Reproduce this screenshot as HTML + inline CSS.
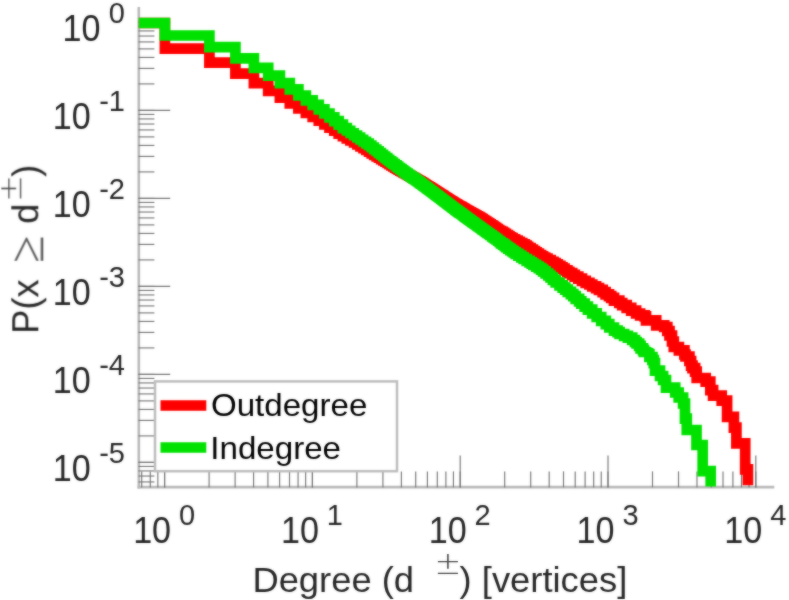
<!DOCTYPE html>
<html><head><meta charset="utf-8"><title>Degree distribution</title>
<style>
html,body{margin:0;padding:0;background:#fff;}
body{width:789px;height:600px;overflow:hidden;font-family:"Liberation Sans",sans-serif;}
svg{display:block;}
text{font-family:"Liberation Sans",sans-serif;fill:#262626;}
.thin{font-family:"DejaVu Sans Light","DejaVu Sans",sans-serif;font-weight:200;fill:#444;}
.geq{font-family:"Liberation Serif",serif;fill:#5a5a5a;}
</style></head><body>
<svg width="789" height="600" viewBox="0 0 789 600">
<rect width="789" height="600" fill="#fff"/>
<defs><filter id="soft" x="0" y="0" width="789" height="600" filterUnits="userSpaceOnUse" color-interpolation-filters="sRGB"><feGaussianBlur stdDeviation="0.8" result="b"/><feComposite in="SourceGraphic" in2="b" operator="arithmetic" k1="0" k2="0.5" k3="0.5" k4="0"/></filter></defs>
<g filter="url(#soft)">
<g stroke="#b9b9b9" stroke-width="2.6" fill="none">
<line x1="138.8" y1="7.0" x2="138.8" y2="488.4"/>
<line x1="137.5" y1="487.1" x2="774.3" y2="487.1"/>
</g>
<g stroke="#767676" stroke-width="1.15" fill="none">
<line x1="138.4" y1="22.40" x2="170.2" y2="22.40"/>
<line x1="138.4" y1="110.40" x2="154.4" y2="110.40"/>
<line x1="138.4" y1="83.91" x2="154.4" y2="83.91"/>
<line x1="138.4" y1="68.41" x2="154.4" y2="68.41"/>
<line x1="138.4" y1="57.42" x2="154.4" y2="57.42"/>
<line x1="138.4" y1="48.89" x2="154.4" y2="48.89"/>
<line x1="138.4" y1="41.92" x2="154.4" y2="41.92"/>
<line x1="138.4" y1="36.03" x2="154.4" y2="36.03"/>
<line x1="138.4" y1="30.93" x2="154.4" y2="30.93"/>
<line x1="138.4" y1="26.43" x2="154.4" y2="26.43"/>
<line x1="138.4" y1="110.40" x2="170.2" y2="110.40"/>
<line x1="138.4" y1="198.40" x2="154.4" y2="198.40"/>
<line x1="138.4" y1="171.91" x2="154.4" y2="171.91"/>
<line x1="138.4" y1="156.41" x2="154.4" y2="156.41"/>
<line x1="138.4" y1="145.42" x2="154.4" y2="145.42"/>
<line x1="138.4" y1="136.89" x2="154.4" y2="136.89"/>
<line x1="138.4" y1="129.92" x2="154.4" y2="129.92"/>
<line x1="138.4" y1="124.03" x2="154.4" y2="124.03"/>
<line x1="138.4" y1="118.93" x2="154.4" y2="118.93"/>
<line x1="138.4" y1="114.43" x2="154.4" y2="114.43"/>
<line x1="138.4" y1="198.40" x2="170.2" y2="198.40"/>
<line x1="138.4" y1="286.40" x2="154.4" y2="286.40"/>
<line x1="138.4" y1="259.91" x2="154.4" y2="259.91"/>
<line x1="138.4" y1="244.41" x2="154.4" y2="244.41"/>
<line x1="138.4" y1="233.42" x2="154.4" y2="233.42"/>
<line x1="138.4" y1="224.89" x2="154.4" y2="224.89"/>
<line x1="138.4" y1="217.92" x2="154.4" y2="217.92"/>
<line x1="138.4" y1="212.03" x2="154.4" y2="212.03"/>
<line x1="138.4" y1="206.93" x2="154.4" y2="206.93"/>
<line x1="138.4" y1="202.43" x2="154.4" y2="202.43"/>
<line x1="138.4" y1="286.40" x2="170.2" y2="286.40"/>
<line x1="138.4" y1="374.40" x2="154.4" y2="374.40"/>
<line x1="138.4" y1="347.91" x2="154.4" y2="347.91"/>
<line x1="138.4" y1="332.41" x2="154.4" y2="332.41"/>
<line x1="138.4" y1="321.42" x2="154.4" y2="321.42"/>
<line x1="138.4" y1="312.89" x2="154.4" y2="312.89"/>
<line x1="138.4" y1="305.92" x2="154.4" y2="305.92"/>
<line x1="138.4" y1="300.03" x2="154.4" y2="300.03"/>
<line x1="138.4" y1="294.93" x2="154.4" y2="294.93"/>
<line x1="138.4" y1="290.43" x2="154.4" y2="290.43"/>
<line x1="138.4" y1="374.40" x2="170.2" y2="374.40"/>
<line x1="138.4" y1="462.40" x2="154.4" y2="462.40"/>
<line x1="138.4" y1="435.91" x2="154.4" y2="435.91"/>
<line x1="138.4" y1="420.41" x2="154.4" y2="420.41"/>
<line x1="138.4" y1="409.42" x2="154.4" y2="409.42"/>
<line x1="138.4" y1="400.89" x2="154.4" y2="400.89"/>
<line x1="138.4" y1="393.92" x2="154.4" y2="393.92"/>
<line x1="138.4" y1="388.03" x2="154.4" y2="388.03"/>
<line x1="138.4" y1="382.93" x2="154.4" y2="382.93"/>
<line x1="138.4" y1="378.43" x2="154.4" y2="378.43"/>
<line x1="138.4" y1="462.40" x2="170.2" y2="462.40"/>
<line x1="138.4" y1="481.92" x2="154.4" y2="481.92"/>
<line x1="138.4" y1="476.03" x2="154.4" y2="476.03"/>
<line x1="138.4" y1="470.93" x2="154.4" y2="470.93"/>
<line x1="138.4" y1="466.43" x2="154.4" y2="466.43"/>
<line x1="141.71" y1="487.4" x2="141.71" y2="471.4"/>
<line x1="150.28" y1="487.4" x2="150.28" y2="471.4"/>
<line x1="157.84" y1="487.4" x2="157.84" y2="471.4"/>
<line x1="164.60" y1="487.4" x2="164.60" y2="455.6"/>
<line x1="164.60" y1="487.4" x2="164.60" y2="471.4"/>
<line x1="209.09" y1="487.4" x2="209.09" y2="471.4"/>
<line x1="235.12" y1="487.4" x2="235.12" y2="471.4"/>
<line x1="253.58" y1="487.4" x2="253.58" y2="471.4"/>
<line x1="267.91" y1="487.4" x2="267.91" y2="471.4"/>
<line x1="279.61" y1="487.4" x2="279.61" y2="471.4"/>
<line x1="289.51" y1="487.4" x2="289.51" y2="471.4"/>
<line x1="298.08" y1="487.4" x2="298.08" y2="471.4"/>
<line x1="305.64" y1="487.4" x2="305.64" y2="471.4"/>
<line x1="312.40" y1="487.4" x2="312.40" y2="455.6"/>
<line x1="312.40" y1="487.4" x2="312.40" y2="471.4"/>
<line x1="356.89" y1="487.4" x2="356.89" y2="471.4"/>
<line x1="382.92" y1="487.4" x2="382.92" y2="471.4"/>
<line x1="401.38" y1="487.4" x2="401.38" y2="471.4"/>
<line x1="415.71" y1="487.4" x2="415.71" y2="471.4"/>
<line x1="427.41" y1="487.4" x2="427.41" y2="471.4"/>
<line x1="437.31" y1="487.4" x2="437.31" y2="471.4"/>
<line x1="445.88" y1="487.4" x2="445.88" y2="471.4"/>
<line x1="453.44" y1="487.4" x2="453.44" y2="471.4"/>
<line x1="460.20" y1="487.4" x2="460.20" y2="455.6"/>
<line x1="460.20" y1="487.4" x2="460.20" y2="471.4"/>
<line x1="504.69" y1="487.4" x2="504.69" y2="471.4"/>
<line x1="530.72" y1="487.4" x2="530.72" y2="471.4"/>
<line x1="549.18" y1="487.4" x2="549.18" y2="471.4"/>
<line x1="563.51" y1="487.4" x2="563.51" y2="471.4"/>
<line x1="575.21" y1="487.4" x2="575.21" y2="471.4"/>
<line x1="585.11" y1="487.4" x2="585.11" y2="471.4"/>
<line x1="593.68" y1="487.4" x2="593.68" y2="471.4"/>
<line x1="601.24" y1="487.4" x2="601.24" y2="471.4"/>
<line x1="608.00" y1="487.4" x2="608.00" y2="455.6"/>
<line x1="608.00" y1="487.4" x2="608.00" y2="471.4"/>
<line x1="652.49" y1="487.4" x2="652.49" y2="471.4"/>
<line x1="678.52" y1="487.4" x2="678.52" y2="471.4"/>
<line x1="696.98" y1="487.4" x2="696.98" y2="471.4"/>
<line x1="711.31" y1="487.4" x2="711.31" y2="471.4"/>
<line x1="723.01" y1="487.4" x2="723.01" y2="471.4"/>
<line x1="732.91" y1="487.4" x2="732.91" y2="471.4"/>
<line x1="741.48" y1="487.4" x2="741.48" y2="471.4"/>
<line x1="749.04" y1="487.4" x2="749.04" y2="471.4"/>
<line x1="755.80" y1="487.4" x2="755.80" y2="455.6"/>
<line x1="755.80" y1="487.4" x2="755.80" y2="471.4"/>
</g>
<path d="M138.8 23.0 L164.9 23.0 L164.9 48.7 L209.4 48.7 L209.4 62.7 L235.4 62.7 L235.4 73.7 L253.9 73.7 L253.9 83.2 L268.2 83.2 L268.2 90.8 L279.9 90.8 L279.9 97.7 L289.8 97.7 L289.8 103.4 L298.4 103.4 L298.4 108.3 L305.9 108.3 L305.9 112.9 L312.7 112.9 L312.7 116.9 L318.8 116.9 L318.8 120.7 L324.4 120.7 L324.4 124.5 L329.5 124.5 L329.5 127.6 L334.3 127.6 L334.3 130.6 L338.7 130.6 L338.7 133.6 L342.9 133.6 L342.9 136.2 L346.8 136.2 L346.8 138.3 L350.4 138.3 L350.4 140.4 L353.9 140.4 L353.9 142.6" fill="none" stroke="#ff0000" stroke-linejoin="miter" stroke-linecap="butt" stroke-width="10.7"/>
<path d="M353.9 140.4 L353.9 142.6 L357.2 142.6 L357.2 144.6 L360.3 144.6 L360.3 146.5 L363.3 146.5 L363.3 148.4 L366.2 148.4 L366.2 150.2 L368.9 150.2 L368.9 151.9 L371.5 151.9 L371.5 153.5 L374.0 153.5 L374.0 155.0 L376.5 155.0 L376.5 156.5 L378.8 156.5 L378.8 157.9 L381.0 157.9 L381.0 159.3 L383.2 159.3 L383.2 160.6 L385.3 160.6 L385.3 161.9 L387.4 161.9 L387.4 163.1 L389.3 163.1 L389.3 164.4 L391.3 164.4 L391.3 165.5 L393.1 165.5 L393.1 166.7 L394.9 166.7 L394.9 167.8 L396.7 167.8 L396.7 168.9 L398.4 168.9 L398.4 169.9 L400.1 169.9 L400.1 170.8 L401.7 170.8 L401.7 171.7 L403.3 171.7 L403.3 172.5 L404.8 172.5 L404.8 173.4 L406.3 173.4 L406.3 174.2 L407.8 174.2 L407.8 175.0 L409.2 175.0 L409.2 175.8 L410.7 175.8 L410.7 176.5 L412.0 176.5 L412.0 177.3 L413.4 177.3 L413.4 178.0 L414.7 178.0 L414.7 178.7 L416.0 178.7 L416.0 179.4 L417.3 179.4 L417.3 180.1 L418.5 180.1 L418.5 180.8 L419.7 180.8 L419.7 181.5 L420.9 181.5 L420.9 182.2 L422.1 182.2 L422.1 183.0 L423.3 183.0 L423.3 183.7 L424.4 183.7 L424.4 184.4 L425.5 184.4 L425.5 185.1 L426.6 185.1 L426.6 185.8 L427.7 185.8 L427.7 186.4 L428.8 186.4 L428.8 187.1 L429.8 187.1 L429.8 187.7 L430.8 187.7 L430.8 188.4 L431.9 188.4 L431.9 189.0 L432.8 189.0 L432.8 189.6 L433.8 189.6 L433.8 190.2 L434.8 190.2 L434.8 190.8 L435.7 190.8 L435.7 191.5 L436.7 191.5 L436.7 192.1 L437.6 192.1 L437.6 192.6 L438.5 192.6 L438.5 193.2 L439.4 193.2 L439.4 193.8 L440.3 193.8 L440.3 194.4 L441.2 194.4 L441.2 194.9 L442.0 194.9 L442.0 195.5 L442.9 195.5 L442.9 196.0 L443.7 196.0 L443.7 196.6 L444.6 196.6 L444.6 197.1 L445.4 197.1 L445.4 197.6 L446.2 197.6 L446.2 198.2 L447.0 198.2 L447.0 198.7 L447.8 198.7 L447.8 199.2 L448.5 199.2 L448.5 199.7 L449.3 199.7 L449.3 200.2 L450.1 200.2 L450.1 200.7 L450.8 200.7 L450.8 201.1 L451.6 201.1 L451.6 201.5 L452.3 201.5 L452.3 202.0 L453.0 202.0 L453.0 202.4 L453.7 202.4 L453.7 202.8 L454.4 202.8 L454.4 203.3 L455.1 203.3 L455.1 203.7 L455.8 203.7 L455.8 204.1 L456.5 204.1 L456.5 204.5 L457.2 204.5 L457.2 204.9 L457.9 204.9 L457.9 205.3 L458.5 205.3 L458.5 205.7 L459.2 205.7 L459.2 206.1 L459.9 206.1 L459.9 206.5 L460.5 206.5 L460.5 206.7 L461.1 206.7 L461.1 207.0 L461.8 207.0 L461.8 207.4 L462.4 207.4 L462.4 207.8 L463.0 207.8 L463.0 208.2 L463.6 208.2 L463.6 208.5 L464.2 208.5 L464.2 208.9 L464.8 208.9 L464.8 209.3 L465.4 209.3 L465.4 209.6 L466.0 209.6 L466.0 210.0 L466.6 210.0 L466.6 210.3 L467.2 210.3 L467.2 210.6 L467.8 210.6 L467.8 210.9 L468.3 210.9 L468.3 211.2 L468.9 211.2 L468.9 211.6 L469.5 211.6 L469.5 211.9 L470.0 211.9 L470.0 212.2 L470.6 212.2 L470.6 212.5 L471.1 212.5 L471.1 212.8 L471.7 212.8 L471.7 213.1 L472.2 213.1 L472.2 213.5 L473.3 213.5 L473.3 214.2 L474.5 214.2 L474.5 214.8 L475.6 214.8 L475.6 215.4 L476.8 215.4 L476.8 216.1 L478.2 216.1 L478.2 216.9 L479.6 216.9 L479.6 217.6 L480.7 217.6 L480.7 218.3 L481.8 218.3 L481.8 219.0 L482.9 219.0 L482.9 219.8 L484.2 219.8 L484.2 220.6 L485.3 220.6 L485.3 221.4 L486.6 221.4 L486.6 222.3 L488.1 222.3 L488.1 223.2 L489.4 223.2 L489.4 224.1 L490.9 224.1 L490.9 225.1 L492.5 225.1 L492.5 226.0 L493.6 226.0 L493.6 226.9 L495.2 226.9 L495.2 227.9 L496.5 227.9 L496.5 228.8 L498.0 228.8 L498.0 229.8 L499.4 229.8 L499.4 230.8 L501.2 230.8 L501.2 231.9" fill="none" stroke="#ff0000" stroke-linejoin="miter" stroke-linecap="butt" stroke-width="10.3"/>
<path d="M501.2 230.8 L501.2 231.9 L502.8 231.9 L502.8 232.9 L504.2 232.9 L504.2 233.9 L505.9 233.9 L505.9 235.1 L508.0 235.1 L508.0 236.3 L509.5 236.3 L509.5 237.3 L511.0 237.3 L511.0 238.2 L512.7 238.2 L512.7 239.3 L515.1 239.3 L515.1 240.6 L517.6 240.6 L517.6 241.8 L519.8 241.8 L519.8 243.1 L522.3 243.1 L522.3 244.4 L524.8 244.4 L524.8 245.6 L526.7 245.6 L526.7 246.8 L528.2 246.8 L528.2 248.1 L530.6 248.1 L530.6 249.6 L532.9 249.6 L532.9 251.1 L534.9 251.1 L534.9 252.3 L536.7 252.3 L536.7 253.7 L538.9 253.7 L538.9 255.2 L541.1 255.2 L541.1 256.4 L543.1 256.4 L543.1 257.5 L545.2 257.5 L545.2 258.7 L547.5 258.7 L547.5 260.2 L550.7 260.2 L550.7 261.9 L553.5 261.9 L553.5 263.2 L555.6 263.2 L555.6 264.4 L557.8 264.4 L557.8 265.9 L560.4 265.9 L560.4 267.4 L562.5 267.4 L562.5 268.7 L564.6 268.7 L564.6 270.3 L567.4 270.3 L567.4 271.8 L569.3 271.8 L569.3 273.2 L572.2 273.2 L572.2 274.8 L574.8 274.8 L574.8 276.6 L578.3 276.6 L578.3 278.7 L582.0 278.7 L582.0 280.8 L585.7 280.8 L585.7 282.8 L589.4 282.8 L589.4 284.5 L592.3 284.5 L592.3 286.3 L596.1 286.3 L596.1 288.1 L599.0 288.1 L599.0 289.9 L602.7 289.9 L602.7 292.2 L605.6 292.2 L605.6 294.3 L609.0 294.3 L609.0 296.2 L611.2 296.2 L611.2 297.9 L614.0 297.9 L614.0 300.6 L619.3 300.6 L619.3 303.0 L622.2 303.0 L622.2 305.2 L626.7 305.2 L626.7 307.9 L631.2 307.9 L631.2 310.7 L636.1 310.7 L636.1 313.5 L640.1 313.5 L640.1 315.3 L644.7 315.3 L644.7 316.3 L646.0 316.3" fill="none" stroke="#ff0000" stroke-linejoin="miter" stroke-linecap="butt" stroke-width="10.7"/>
<path d="M644.7 316.3 L646.0 316.3 L646.0 320.3 L656.2 320.3 L656.2 325.3 L664.2 325.3 L664.2 327.0 L667.3 327.0 L667.3 331.0 L669.5 331.0 L669.5 335.5 L672.0 335.5 L672.0 341.5 L673.8 341.5 L673.8 347.0 L678.9 347.0 L678.9 350.4 L684.4 350.4 L684.4 354.5 L685.5 354.5 L685.5 356.5 L689.4 356.5 L689.4 361.0 L691.1 361.0 L691.1 365.7 L692.5 365.7 L692.5 368.1 L695.1 368.1 L695.1 371.7 L696.7 371.7 L696.7 378.0 L705.7 378.0 L705.7 381.7 L710.3 381.7 L710.3 390.2 L713.1 390.2 L713.1 395.6 L721.7 395.6 L721.7 400.7 L727.1 400.7 L727.1 416.8 L733.9 416.8 L733.9 427.7 L736.4 427.7 L736.4 443.3 L745.2 443.3 L745.2 469.3 L747.9 469.3 L747.9 485.3" fill="none" stroke="#ff0000" stroke-linejoin="miter" stroke-linecap="butt" stroke-width="10.7"/>
<path d="M138.8 23.0 L164.9 23.0 L164.9 35.5 L209.4 35.5 L209.4 47.1 L235.4 47.1 L235.4 58.3 L253.9 58.3 L253.9 67.9 L268.2 67.9 L268.2 75.6 L279.9 75.6 L279.9 83.2 L289.8 83.2 L289.8 89.3 L298.4 89.3 L298.4 95.5 L305.9 95.5 L305.9 100.4 L312.7 100.4 L312.7 104.8 L318.8 104.8 L318.8 109.4 L324.4 109.4 L324.4 113.5 L329.5 113.5 L329.5 117.4 L334.3 117.4 L334.3 121.2 L338.7 121.2 L338.7 124.6 L342.9 124.6 L342.9 128.1 L346.8 128.1 L346.8 130.7" fill="none" stroke="#00e100" stroke-linejoin="miter" stroke-linecap="butt" stroke-width="10.7"/>
<path d="M346.8 128.1 L346.8 130.7 L350.4 130.7 L350.4 133.1 L353.9 133.1 L353.9 135.4 L357.2 135.4 L357.2 137.5 L360.3 137.5 L360.3 139.6 L363.3 139.6 L363.3 141.6 L366.2 141.6 L366.2 143.5 L368.9 143.5 L368.9 145.4 L371.5 145.4 L371.5 147.4 L374.0 147.4 L374.0 149.3 L376.5 149.3 L376.5 151.2 L378.8 151.2 L378.8 153.0 L381.0 153.0 L381.0 154.7 L383.2 154.7 L383.2 156.4 L385.3 156.4 L385.3 158.0 L387.4 158.0 L387.4 159.6 L389.3 159.6 L389.3 161.1 L391.3 161.1 L391.3 162.5 L393.1 162.5 L393.1 163.9 L394.9 163.9 L394.9 165.2 L396.7 165.2 L396.7 166.5 L398.4 166.5 L398.4 167.8 L400.1 167.8 L400.1 169.0 L401.7 169.0 L401.7 170.2 L403.3 170.2 L403.3 171.4 L404.8 171.4 L404.8 172.5 L406.3 172.5 L406.3 173.5 L407.8 173.5 L407.8 174.6 L409.2 174.6 L409.2 175.6 L410.7 175.6 L410.7 176.6 L412.0 176.6 L412.0 177.5 L413.4 177.5 L413.4 178.5 L414.7 178.5 L414.7 179.4 L416.0 179.4 L416.0 180.3 L417.3 180.3 L417.3 181.2 L418.5 181.2 L418.5 182.1 L419.7 182.1 L419.7 183.0 L420.9 183.0 L420.9 183.8 L422.1 183.8 L422.1 184.7 L423.3 184.7 L423.3 185.6 L424.4 185.6 L424.4 186.4 L425.5 186.4 L425.5 187.2 L426.6 187.2 L426.6 188.0 L427.7 188.0 L427.7 188.8 L428.8 188.8 L428.8 189.6 L429.8 189.6 L429.8 190.4 L430.8 190.4 L430.8 191.1 L431.9 191.1 L431.9 191.9 L432.8 191.9 L432.8 192.6 L433.8 192.6 L433.8 193.3 L434.8 193.3 L434.8 194.1 L435.7 194.1 L435.7 194.8 L436.7 194.8 L436.7 195.5 L437.6 195.5 L437.6 196.2 L438.5 196.2 L438.5 196.9 L439.4 196.9 L439.4 197.6 L440.3 197.6 L440.3 198.2 L441.2 198.2 L441.2 198.9 L442.0 198.9 L442.0 199.6 L442.9 199.6 L442.9 200.2 L443.7 200.2 L443.7 200.8 L444.6 200.8 L444.6 201.5 L445.4 201.5 L445.4 202.1 L446.2 202.1 L446.2 202.7 L447.0 202.7 L447.0 203.3 L447.8 203.3 L447.8 203.9 L448.5 203.9 L448.5 204.5 L449.3 204.5 L449.3 205.1 L450.1 205.1 L450.1 205.7 L450.8 205.7 L450.8 206.2 L451.6 206.2 L451.6 206.8 L452.3 206.8 L452.3 207.3 L453.0 207.3 L453.0 207.9 L453.7 207.9 L453.7 208.4 L454.4 208.4 L454.4 208.9 L455.1 208.9 L455.1 209.5 L455.8 209.5 L455.8 210.0 L456.5 210.0 L456.5 210.5 L457.2 210.5 L457.2 211.0 L457.9 211.0 L457.9 211.5 L458.5 211.5 L458.5 212.0 L459.2 212.0 L459.2 212.5 L459.9 212.5 L459.9 213.0 L460.5 213.0 L460.5 213.2 L461.1 213.2 L461.1 213.7 L461.8 213.7 L461.8 214.2 L462.4 214.2 L462.4 214.7 L463.0 214.7 L463.0 215.2 L463.6 215.2 L463.6 215.6 L464.2 215.6 L464.2 216.1 L464.8 216.1 L464.8 216.5 L465.4 216.5 L465.4 217.0 L466.0 217.0 L466.0 217.4 L466.6 217.4 L466.6 217.9 L467.2 217.9 L467.2 218.3 L467.8 218.3 L467.8 218.7 L468.3 218.7 L468.3 219.1 L468.9 219.1 L468.9 219.5 L469.5 219.5 L469.5 219.9 L470.0 219.9 L470.0 220.3 L470.6 220.3 L470.6 220.7 L471.1 220.7 L471.1 221.1 L471.7 221.1 L471.7 221.4 L472.2 221.4 L472.2 222.1 L473.4 222.1 L473.4 222.9 L474.6 222.9 L474.6 223.8 L475.8 223.8 L475.8 224.6 L477.0 224.6 L477.0 225.6 L478.4 225.6 L478.4 226.6 L479.9 226.6 L479.9 227.6 L481.1 227.6 L481.1 228.4 L482.2 228.4 L482.2 229.3 L483.4 229.3 L483.4 230.2 L484.7 230.2 L484.7 231.1 L485.9 231.1 L485.9 232.0 L487.3 232.0 L487.3 233.1 L488.9 233.1 L488.9 234.1 L490.2 234.1 L490.2 235.2 L491.9 235.2 L491.9 236.5 L493.5 236.5 L493.5 237.5 L494.8 237.5 L494.8 238.5 L496.4 238.5 L496.4 239.7 L497.9 239.7 L497.9 240.9 L499.5 240.9 L499.5 242.0 L501.0 242.0 L501.0 243.3" fill="none" stroke="#00e100" stroke-linejoin="miter" stroke-linecap="butt" stroke-width="10.3"/>
<path d="M501.0 242.0 L501.0 243.3 L503.0 243.3 L503.0 244.7 L504.8 244.7 L504.8 245.9 L506.2 245.9 L506.2 247.1 L508.2 247.1 L508.2 248.7 L510.4 248.7 L510.4 250.1 L512.2 250.1 L512.2 251.2 L513.8 251.2 L513.8 252.3 L515.7 252.3 L515.7 253.8 L518.4 253.8 L518.4 255.6 L521.3 255.6 L521.3 257.3 L523.7 257.3 L523.7 259.0 L526.7 259.0 L526.7 260.8 L529.6 260.8 L529.6 262.4 L531.7 262.4 L531.7 263.6 L533.4 263.6 L533.4 264.9 L536.2 264.9 L536.2 266.6 L538.8 266.6 L538.8 268.1 L541.1 268.1 L541.1 269.6 L543.1 269.6 L543.1 271.4 L545.6 271.4 L545.6 273.5 L548.3 273.5 L548.3 275.5 L550.5 275.5 L550.5 277.5 L552.9 277.5 L552.9 279.8 L555.7 279.8 L555.7 282.5 L559.5 282.5 L559.5 285.3 L562.7 285.3 L562.7 287.6 L565.2 287.6 L565.2 289.6 L567.8 289.6 L567.8 291.8 L570.9 291.8 L570.9 294.1 L573.3 294.1 L573.3 296.2 L575.7 296.2 L575.7 298.8 L579.1 298.8 L579.1 301.3 L581.3 301.3 L581.3 303.7 L584.7 303.7 L584.7 306.6 L587.9 306.6 L587.9 309.6 L592.2 309.6 L592.2 313.3 L596.7 313.3 L596.7 317.0 L601.2 317.0 L601.2 320.8 L605.8 320.8 L605.8 324.1 L609.3 324.1 L609.3 327.5 L614.0 327.5 L614.0 330.6 L617.6 330.6 L617.6 332.1 L619.6 332.1" fill="none" stroke="#00e100" stroke-linejoin="miter" stroke-linecap="butt" stroke-width="10.7"/>
<path d="M617.6 332.1 L619.6 332.1 L619.6 334.0 L624.1 334.0 L624.1 335.9 L627.9 335.9 L627.9 337.6 L632.2 337.6 L632.2 340.0 L635.0 340.0 L635.0 342.0 L636.6 342.0 L636.6 343.5 L639.1 343.5 L639.1 345.9 L640.6 345.9 L640.6 348.4 L643.0 348.4 L643.0 350.1 L643.9 350.1 L643.9 351.8 L648.4 351.8 L649.4 352.3 L649.4 357.0 L652.4 357.0 L652.4 360.0 L653.8 360.0 L653.8 363.1 L655.0 363.1 L655.0 370.6 L660.0 370.6 L660.0 376.0 L663.1 376.0 L663.1 380.0 L666.0 380.0 L666.0 387.6 L675.2 387.6 L675.2 392.5 L678.7 392.5 L678.7 397.5 L683.1 397.5 L683.1 403.5 L685.0 403.5 L685.0 418.7 L686.8 418.7 L686.8 430.0 L696.5 430.0 L696.5 445.0 L702.7 445.0 L702.7 471.2 L710.7 471.2 L710.7 486.5" fill="none" stroke="#00e100" stroke-linejoin="miter" stroke-linecap="butt" stroke-width="10.7"/>
<rect x="155.0" y="381.4" width="242.0" height="89.8" fill="#fff" stroke="#bdbdbd" stroke-width="2.5"/>
<line x1="160.5" y1="405.5" x2="206.3" y2="405.5" stroke="#ff0000" stroke-width="10.5"/>
<line x1="160.5" y1="447.4" x2="206.3" y2="447.4" stroke="#00e100" stroke-width="10.5"/>
<text transform="translate(210.9 416.4) scale(1.035 1)" font-size="32" style="fill:#000">Outdegree</text>
<text transform="translate(210.3 458.5) scale(1.035 1)" font-size="32" style="fill:#000">Indegree</text>
<g transform="translate(100.4 40.6) scale(0.915 1)"><text x="0" y="0" font-size="37.3" text-anchor="end">10</text></g><text x="125.0" y="22.5" font-size="29.0" text-anchor="end">0</text>
<g transform="translate(90.7 128.6) scale(0.915 1)"><text x="0" y="0" font-size="37.3" text-anchor="end">10</text></g><text x="125.0" y="110.5" font-size="29.0" text-anchor="end">-1</text>
<g transform="translate(90.7 216.6) scale(0.915 1)"><text x="0" y="0" font-size="37.3" text-anchor="end">10</text></g><text x="125.0" y="198.5" font-size="29.0" text-anchor="end">-2</text>
<g transform="translate(90.7 304.6) scale(0.915 1)"><text x="0" y="0" font-size="37.3" text-anchor="end">10</text></g><text x="125.0" y="286.5" font-size="29.0" text-anchor="end">-3</text>
<g transform="translate(90.7 392.6) scale(0.915 1)"><text x="0" y="0" font-size="37.3" text-anchor="end">10</text></g><text x="125.0" y="374.5" font-size="29.0" text-anchor="end">-4</text>
<g transform="translate(90.7 480.6) scale(0.915 1)"><text x="0" y="0" font-size="37.3" text-anchor="end">10</text></g><text x="125.0" y="462.5" font-size="29.0" text-anchor="end">-5</text>
<g transform="translate(171.1 542.9) scale(0.915 1)"><text x="0" y="0" font-size="37.3" text-anchor="end">10</text></g><text x="179.0" y="525.1" font-size="29.0" text-anchor="start">0</text>
<g transform="translate(318.9 542.9) scale(0.915 1)"><text x="0" y="0" font-size="37.3" text-anchor="end">10</text></g><text x="326.8" y="525.1" font-size="29.0" text-anchor="start">1</text>
<g transform="translate(466.7 542.9) scale(0.915 1)"><text x="0" y="0" font-size="37.3" text-anchor="end">10</text></g><text x="474.6" y="525.1" font-size="29.0" text-anchor="start">2</text>
<g transform="translate(614.5 542.9) scale(0.915 1)"><text x="0" y="0" font-size="37.3" text-anchor="end">10</text></g><text x="622.4" y="525.1" font-size="29.0" text-anchor="start">3</text>
<g transform="translate(762.3 542.9) scale(0.915 1)"><text x="0" y="0" font-size="37.3" text-anchor="end">10</text></g><text x="770.2" y="525.1" font-size="29.0" text-anchor="start">4</text>
<text transform="translate(252.4 591.5) scale(1.03 1)" font-size="35.3">Degree (d</text>
<text class="thin" x="434.5" y="574" font-size="32">±</text>
<text transform="translate(459.6 591.5) scale(1.03 1)" font-size="35.3">) [vertices]</text>
<g transform="translate(38.3 333.8) rotate(-90)">
<text x="0" y="0" font-size="36.3">P(x</text>
<text class="geq" transform="translate(71 4.9) scale(1 1.01)" font-size="50">≥</text>
<text x="110" y="0" font-size="36.3">d</text>
<text class="thin" x="132.1" y="-17.3" font-size="32">±</text>
<text x="157" y="0" font-size="36.3">)</text>
</g>
</g>
</svg>
</body></html>
